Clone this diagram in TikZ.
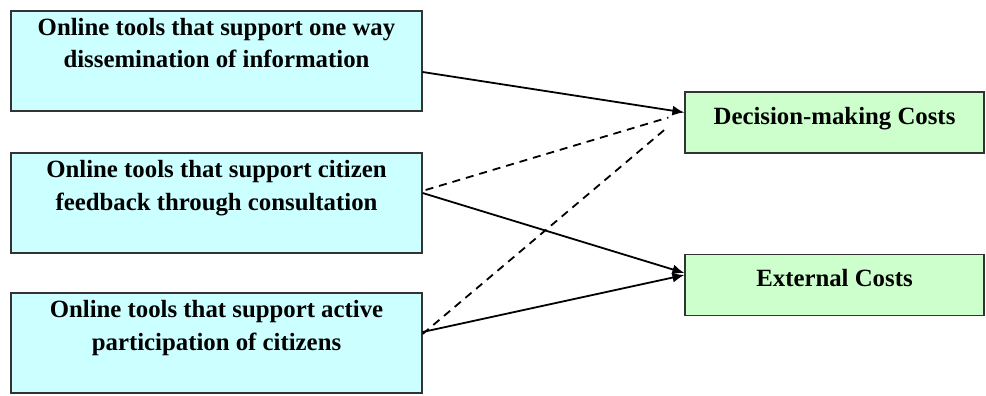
\documentclass[tikz,border=0pt]{standalone}
\usepackage{fontspec}
\setmainfont{Liberation Serif}
\usetikzlibrary{arrows.meta}
\definecolor{toolcyan}{RGB}{204,255,255}
\definecolor{costgreen}{RGB}{204,255,204}
\begin{document}
\begin{tikzpicture}[
    toolbox/.style={draw=black!80, line width=0.6pt, fill=toolcyan, align=center,
      minimum width=205.5pt, inner xsep=0pt, inner ysep=0pt,
      text height=28.5pt, text depth=21.5pt,
      font=\fontsize{12.4}{16.5}\selectfont\bfseries},
    costbox/.style={draw=black!80, line width=0.6pt, fill=costgreen, align=center,
      minimum width=149.5pt, inner xsep=0pt, inner ysep=0pt,
      text height=16pt, text depth=14.5pt,
      font=\fontsize{12.4}{16.5}\selectfont\bfseries},
    link/.style={line width=0.9pt, -{Latex[length=6pt,width=5pt]}},
    weaklink/.style={line width=0.9pt, dash pattern=on 4pt off 3pt}
  ]
\useasboundingbox (0,0) rectangle (493pt,-198pt);

% Online tools
\node[toolbox] (oneway) at (108.25pt,-30.5pt) {Online tools that support one way\\dissemination of information};
\node[toolbox] (feedback) at (108.25pt,-101.5pt) {Online tools that support citizen\\feedback through consultation};
\node[toolbox] (active) at (108.25pt,-171.5pt) {Online tools that support active\\participation of citizens};

% Costs
\node[costbox] (decision) at (417.25pt,-61.25pt) {Decision-making Costs};
\node[costbox] (external) at (417.25pt,-142.5pt) {External Costs};

% Solid links
\draw[link] ([yshift=-5.5pt]oneway.east) -- ([yshift=5pt]decision.west);
\draw[link] ([yshift=5pt]feedback.east) -- ([yshift=6pt]external.west);
\draw[link] ([yshift=5.5pt]active.east) -- ([yshift=5pt]external.west);

% Dashed links
\draw[weaklink] ([xshift=1.5pt,yshift=6.5pt]feedback.east) -- ([xshift=-8pt,yshift=2.5pt]decision.west);
\draw[weaklink] ([yshift=4.5pt]active.east) -- ([xshift=-8pt,yshift=-2pt]decision.west);

\end{tikzpicture}
\end{document}
